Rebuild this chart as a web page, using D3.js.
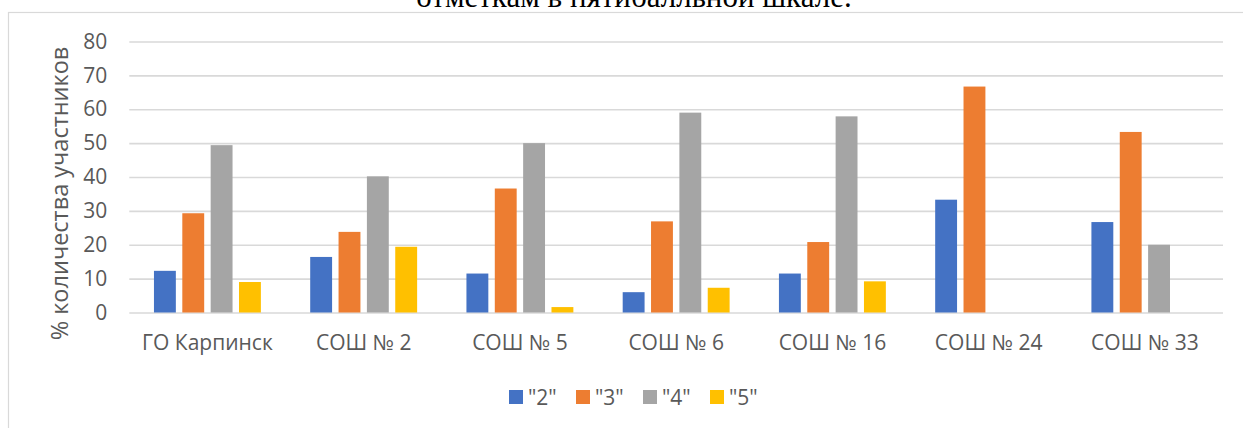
<!DOCTYPE html>
<html>
<head>
<meta charset="utf-8">
<script src="https://cdn.jsdelivr.net/npm/d3@7"></script>
<style>
  body { margin: 0; background: #fff; }
  text { font-family: "Open Sans", sans-serif; fill: #595959; }
</style>
</head>
<body>
<svg id="svg" width="1243" height="428"></svg>
<script>
// données
var schools = ["ГО Карпинск", "СОШ № 2", "СОШ № 5", "СОШ № 6", "СОШ № 16", "СОШ № 24", "СОШ № 33"];
var grades = ['"2"', '"3"', '"4"', '"5"'];
var grade2 = [12.3, 16.4, 11.5, 6.0, 11.5, 33.3, 26.7];
var grade3 = [29.3, 23.8, 36.6, 26.9, 20.8, 66.7, 53.3];
var grade4 = [49.4, 40.2, 50.0, 59.0, 57.9, 0, 20.0];
var grade5 = [9.0, 19.4, 1.6, 7.3, 9.2, 0, 0];
var yTicks = [0, 10, 20, 30, 40, 50, 60, 70, 80];
var colors = ["#4472C4", "#ED7D31", "#A5A5A5", "#FFC000"];

var series = [grade2, grade3, grade4, grade5];

var svg = d3.select("#svg");

// cadre
svg.append("rect")
  .attr("x", 8.5).attr("y", 12.5)
  .attr("width", 1300).attr("height", 500)
  .attr("fill", "none").attr("stroke", "#D9D9D9").attr("stroke-width", 1.2);

// titre (coupé en haut)
svg.append("text")
  .attr("x", 634).attr("y", 7)
  .attr("text-anchor", "middle")
  .style("font-family", "'Liberation Serif', serif")
  .style("font-size", "31px")
  .style("fill", "#000")
  .text("отметкам в пятибалльной шкале.");

var plotLeft = 129.3, plotRight = 1223, plotTop = 41.5, plotBottom = 312.5;

// axe Y
var scaleY = d3.scaleLinear().domain([0, 80]).range([plotBottom, plotTop]);
var axisY = d3.axisLeft(scaleY).tickValues(yTicks).tickSize(-(plotRight - plotLeft)).tickPadding(22);
var gAxisY = svg.append("g").attr("transform", "translate(" + plotLeft + ",0)").call(axisY);
gAxisY.select(".domain").remove();
gAxisY.selectAll("line").attr("stroke", "#D9D9D9").attr("stroke-width", 1.6);
gAxisY.selectAll("text").style("font-size", "21px").style("fill", "#595959");

// axe X
var scaleX = d3.scaleBand().domain(schools).range([plotLeft, plotRight]).padding(0);
var scaleX1 = d3.scaleBand().domain(grades).range([0, scaleX.bandwidth()])
  .paddingInner(0.228).paddingOuter(0.87);

// barres
series.forEach(function(vals, s) {
  svg.selectAll(".bar" + s)
    .data(vals)
    .enter()
    .append("rect")
    .attr("x", function(d, i) { return scaleX(schools[i]) + scaleX1(grades[s]); })
    .attr("y", function(d) { return scaleY(d); })
    .attr("width", scaleX1.bandwidth())
    .attr("height", function(d) { return scaleY(0) - scaleY(d); })
    .attr("fill", colors[s]);
});

var axisX = d3.axisBottom(scaleX).tickSize(0).tickPadding(23);
var gAxisX = svg.append("g").attr("transform", "translate(0," + plotBottom + ")").call(axisX);
gAxisX.select(".domain").remove();
gAxisX.selectAll("text").style("font-size", "21px").style("fill", "#595959");

// label axe Y
svg.append("text")
  .attr("transform", "translate(68,193.5) rotate(-90)")
  .attr("text-anchor", "middle")
  .style("font-size", "23.5px")
  .text("% количества участников");

// légende
var legend = svg.append("g");
grades.forEach(function(g, i) {
  var lx = 509 + i * 67;
  legend.append("rect").attr("x", lx).attr("y", 390).attr("width", 14).attr("height", 14).attr("fill", colors[i]);
  legend.append("text").attr("x", lx + 19).attr("y", 405).style("font-size", "21px").text(g);
});
</script>
</body>
</html>
